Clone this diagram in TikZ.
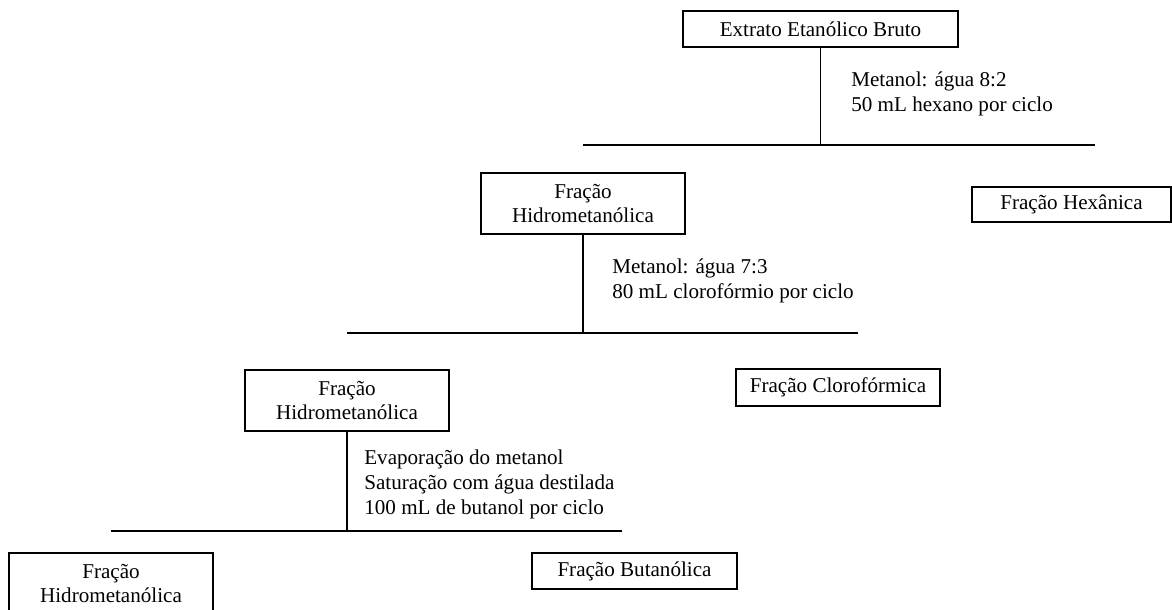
\documentclass[tikz,border=0pt]{standalone}
\usepackage{fontspec}
\setmainfont{Liberation Serif}
\usepackage{tikz}
\tikzset{
         box/.style=
          {
           rectangle,draw,line width=.7pt,inner sep=0pt,align=center,
           font=\fontsize{12}{14.2}\selectfont
          },
         cond/.style=
          {
           anchor=west,inner sep=0pt,align=left,
           font=\fontsize{12}{14.2}\selectfont
          }
        }

\begin{document}
\begin{tikzpicture}
\clip(0,0)rectangle(23.44,12.18);
%crude extract
\node[box,minimum width=5.5cm,minimum height=.72cm](ext)at(16.41,11.6){Extrato Etanólico Bruto};
\coordinate(l1a)at(11.66,9.28);
\coordinate(l1b)at(21.9,9.28);
\draw[line width=.6pt](ext)--(ext|-l1a);
\draw[line width=.6pt](l1a)--(l1b);
\node[cond](cond1)at(17.02,10.3){Metanol: água 8:2\\50 mL hexano por ciclo};
%first partition
\node[box,minimum width=4.08cm,minimum height=1.22cm](hid1)at(11.66,8.11){Fração\\Hidrometanólica};
\node[box,minimum width=3.98cm,minimum height=.7cm](hex)at(21.43,8.09){Fração Hexânica};
\coordinate(l2a)at(6.94,5.52);
\coordinate(l2b)at(17.16,5.52);
\draw[line width=.6pt](hid1)--(hid1|-l2a);
\draw[line width=.6pt](l2a)--(l2b);
\node[cond](cond2)at(12.24,6.57){Metanol: água 7:3\\80 mL clorofórmio por ciclo};
%second partition
\node[box,minimum width=4.08cm,minimum height=1.22cm](hid2)at(6.94,4.17){Fração\\Hidrometanólica};
\node[box,minimum width=4.08cm,minimum height=.74cm](clo)at(16.76,4.43){Fração Clorofórmica};
\coordinate(l3a)at(2.22,1.56);
\coordinate(l3b)at(12.44,1.56);
\draw[line width=.6pt](hid2)--(hid2|-l3a);
\draw[line width=.6pt](l3a)--(l3b);
\node[cond](cond3)at(7.28,2.49){Evaporação do metanol\\Saturação com água destilada\\100 mL de butanol por ciclo};
%third partition
\node[box,minimum width=4.08cm,minimum height=1.22cm](hid3)at(2.22,.51){Fração\\Hidrometanólica};
\node[box,minimum width=4.1cm,minimum height=.72cm](but)at(12.69,.76){Fração Butanólica};
\end{tikzpicture}
\end{document}
